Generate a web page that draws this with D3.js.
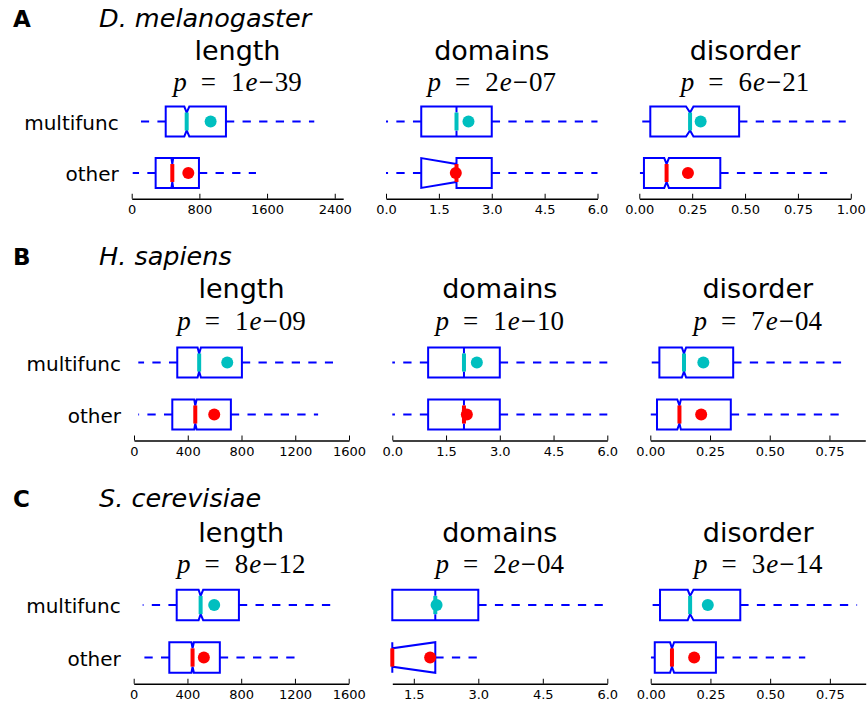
<!DOCTYPE html>
<html lang="en">
<head>
<meta charset="utf-8">
<title>multifunc vs other</title>
<style type="text/css">
    body { margin: 0; background: #fff; }
    svg text { font-family: "DejaVu Sans", sans-serif; fill: #000; }
    .axis text { font-size: 13px; }
    .axis path, .axis line { stroke: #000; }
    .axis path { stroke-width: 1.5; }
    .pval { font-family: "Liberation Serif", serif; font-size: 27px; }
</style>
</head>
<body>
<svg id="chart" width="868" height="704"></svg>
<script src="https://d3js.org/d3.v7.min.js"></script>
<script>
// panel headers
var letters = ['A', 'B', 'C'];
var species = ['D. melanogaster', 'H. sapiens', 'S. cerevisiae'];
var metrics = ['length', 'domains', 'disorder'];
var groups = ['multifunc', 'other'];

// p = mantissa e - exponent
var pMantissa = [['1', '2', '6'], ['1', '1', '7'], ['8', '2', '3']];
var pExponent = [['39', '07', '21'], ['09', '10', '04'], ['12', '04', '14']];

// box stats per metric: [multifunc, other], each [lo, q1, cilo, med, cihi, q3, hi, mean]
var dmel = [
    [[110, 402, 622, 650, 681, 1114, 2158, 933], [12, 283, 470, 480, 490, 795, 1469, 669]],
    [[0, 1, 2, 2, 2, 3, 6, 2.34], [0, 1, 1, 2, 2, 3, 6, 1.98]],
    [[0.014, 0.052, 0.221, 0.240, 0.256, 0.472, 0.976, 0.290], [0.003, 0.022, 0.118, 0.129, 0.140, 0.383, 0.888, 0.230]]
];
var hsap = [
    [[32, 322, 473, 485, 498, 803, 1481, 694], [32, 285, 448, 456, 466, 721, 1370, 597]],
    [[0, 1, 2, 2, 2, 3, 6, 2.36], [0, 1, 2, 2, 2, 3, 6, 2.08]],
    [[0.006, 0.038, 0.132, 0.141, 0.150, 0.347, 0.803, 0.222], [0.002, 0.028, 0.113, 0.122, 0.128, 0.337, 0.796, 0.213]]
];
var scer = [
    [[67, 320, 483, 498, 517, 783, 1464, 599], [77, 265, 430, 438, 448, 641, 1201, 522]],
    [[1, 1, 2, 2, 2, 3, 6, 2.03], [1, 1, 1, 1, 2, 2, 3, 1.88]],
    [[0.008, 0.039, 0.155, 0.165, 0.179, 0.375, 0.864, 0.239], [0.001, 0.017, 0.081, 0.089, 0.098, 0.273, 0.647, 0.182]]
];
var allStats = [dmel, hsap, scer];

// x axis ranges and ticks
var xDomains = [
    [[0, 2500], [0, 6], [0, 1]],
    [[0, 1600], [0, 6], [0, 0.9]],
    [[0, 1600], [1, 6], [0, 0.9]]
];
var xTicks = [
    [[0, 800, 1600, 2400], [0, 1.5, 3, 4.5, 6], [0, 0.25, 0.5, 0.75, 1]],
    [[0, 400, 800, 1200, 1600], [0, 1.5, 3, 4.5, 6], [0, 0.25, 0.5, 0.75]],
    [[0, 400, 800, 1200, 1600], [1.5, 3, 4.5, 6], [0, 0.25, 0.5, 0.75]]
];
var tickFormats = [d3.format('d'), d3.format('.1f'), d3.format('.2f')];

// layout of each row (pixels)
var rows = [
    {head: 26.7, title: 59.5, p: 90.7, yMulti: 121.5, yOther: 173, left: [131.7, 386, 639.3], width: 211.5},
    {head: 265, title: 298.3, p: 330, yMulti: 362.5, yOther: 414.5, left: [134, 392.3, 650.3], width: 215},
    {head: 506.7, title: 541.7, p: 573.3, yMulti: 605, yOther: 657.5, left: [133.7, 392.3, 650.7], width: 215}
];

var blue = '#0000ff',
    groupColor = ['#00bfbf', '#ff0000'];
var halfBox = 0.29,       // box half height in y units
    notchFrac = 0.6;      // notch tip relative to box half height

var svg = d3.select('#chart');

rows.forEach(function(row, r) {
    // row header
    svg.append('text')
        .attr('x', 13).attr('y', row.head)
        .style('font-size', '23px').style('font-weight', 'bold')
        .text(letters[r]);
    svg.append('text')
        .attr('x', 99).attr('y', row.head)
        .style('font-size', '25.5px').style('font-style', 'italic')
        .text(species[r]);

    var step = row.yOther - row.yMulti,
        axisY = row.yOther + step / 2;

    metrics.forEach(function(m, c) {
        var x = d3.scaleLinear()
                .domain(xDomains[r][c])
                .range([row.left[c], row.left[c] + row.width]);
        var y = d3.scaleLinear()
                .domain([0.5, 2.5])
                .range([axisY, axisY - 2 * step]);
        var cx = row.left[c] + row.width / 2;

        var g = svg.append('g');

        // titles
        g.append('text')
            .attr('x', cx).attr('y', row.title)
            .attr('text-anchor', 'middle')
            .style('font-size', '27px')
            .text(m);

        var pt = g.append('text')
            .attr('class', 'pval')
            .attr('x', cx).attr('y', row.p)
            .attr('text-anchor', 'middle');
        pt.append('tspan').style('font-style', 'italic').text('p');
        pt.append('tspan').attr('dx', 14).text('=');
        pt.append('tspan').attr('dx', 15).text(pMantissa[r][c]);
        pt.append('tspan').attr('dx', 1).style('font-style', 'italic').text('e');
        pt.append('tspan').attr('dx', 1).text('\u2212');
        pt.append('tspan').attr('dx', 1).text(pExponent[r][c]);

        // axis
        g.append('g')
            .attr('class', 'axis')
            .attr('transform', 'translate(0,' + axisY + ')')
            .call(d3.axisBottom(x)
                .tickValues(xTicks[r][c])
                .tickFormat(tickFormats[c])
                .tickSizeInner(-5)
                .tickSizeOuter(0)
                .tickPadding(6));

        // y labels only on the first column
        if (c === 0) {
            groups.forEach(function(name, k) {
                g.append('text')
                    .attr('x', row.left[0] - 13)
                    .attr('y', y(2 - k))
                    .attr('dy', '0.4em')
                    .attr('text-anchor', 'end')
                    .style('font-size', '20px')
                    .text(name);
            });
        }

        var line = d3.line()
            .x(function(d) { return x(d[0]); })
            .y(function(d) { return d[1]; });

        allStats[r][c].forEach(function(s, k) {
            var pos = 2 - k,
                lo = s[0], q1 = s[1], cilo = s[2], med = s[3],
                cihi = s[4], q3 = s[5], hi = s[6], mean = s[7];
            var top = y(pos + halfBox), bot = y(pos - halfBox),
                nTop = y(pos + halfBox * notchFrac), nBot = y(pos - halfBox * notchFrac);

            // whiskers, dashed from the box outwards
            if (lo < q1) {
                g.append('path')
                    .attr('d', line([[q1, y(pos)], [lo, y(pos)]]))
                    .attr('fill', 'none').attr('stroke', blue)
                    .attr('stroke-width', 2).attr('stroke-dasharray', '8.3,8.3');
            }
            if (hi > q3) {
                g.append('path')
                    .attr('d', line([[q3, y(pos)], [hi, y(pos)]]))
                    .attr('fill', 'none').attr('stroke', blue)
                    .attr('stroke-width', 2).attr('stroke-dasharray', '8.3,8.3');
            }

            // notched box
            var pts = [[q1, bot], [q1, top], [cilo, top], [med, nTop], [cihi, top], [q3, top],
                       [q3, bot], [cihi, bot], [med, nBot], [cilo, bot], [q1, bot]];
            g.append('path')
                .attr('d', line(pts) + 'Z')
                .attr('fill', 'none').attr('stroke', blue)
                .attr('stroke-width', 2).attr('stroke-linejoin', 'miter');

            // median
            g.append('line')
                .attr('x1', x(med)).attr('x2', x(med))
                .attr('y1', nTop).attr('y2', nBot)
                .attr('stroke', groupColor[k]).attr('stroke-width', 4);

            // mean
            g.append('circle')
                .attr('cx', x(mean)).attr('cy', y(pos))
                .attr('r', 6)
                .attr('fill', groupColor[k]);
        });
    });
});
</script>
</body>
</html>
